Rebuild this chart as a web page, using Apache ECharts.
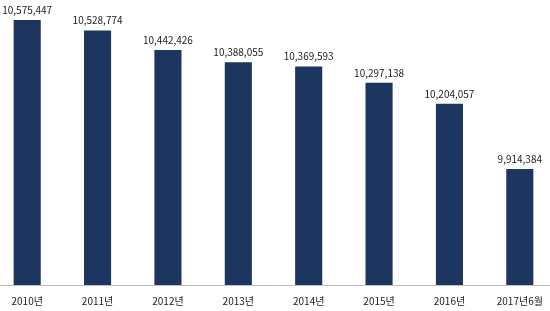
<!DOCTYPE html>
<html><head><meta charset="utf-8">
<script src="https://cdn.jsdelivr.net/npm/echarts@6/dist/echarts.min.js"></script>
<style>html,body{margin:0;padding:0;background:#fff;overflow:hidden}#c{width:563px;height:311px;margin-left:-7.6px}</style>
</head><body><div id="c"></div>
<script>
const categories = ['2010년','2011년','2012년','2013년','2014년','2015년','2016년','2017년6월'];
const values = [10575447,10528774,10442426,10388055,10369593,10297138,10204057,9914384];
const chart = echarts.init(document.getElementById('c'));
chart.setOption({
  animation: false,
  grid: {left: 0, right: 0, top: 14.5, bottom: 26},
  xAxis: {
    type: 'category', data: categories,
    axisTick: {show: false},
    axisLine: {lineStyle: {color: '#bfbfbf', width: 1}},
    axisLabel: {color: '#222', fontSize: 10, fontFamily: 'Noto Sans CJK KR', margin: 11}
  },
  yAxis: {type: 'value', min: 9400000, max: 10600000, interval: 200000, show: false, splitLine: {show: false}},
  series: [{
    type: 'bar', data: values, barWidth: '38.5%',
    itemStyle: {color: '#1c365f'},
    label: {show: true, position: 'top', distance: 5, color: '#222', fontSize: 10, fontFamily: 'Noto Sans CJK KR',
      formatter: p => p.value.toLocaleString('en-US')}
  }]
});
</script></body></html>
